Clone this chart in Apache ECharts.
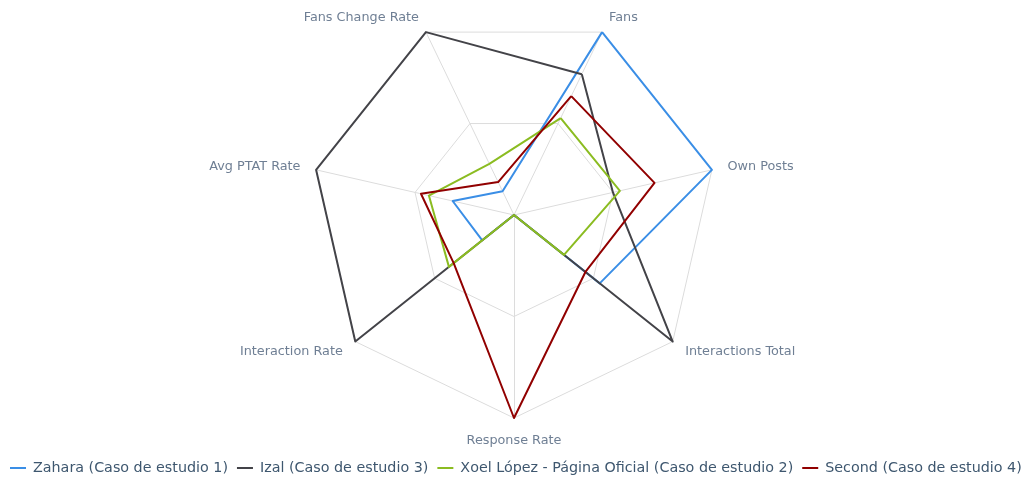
<!DOCTYPE html>
<html>
<head>
<meta charset="utf-8">
<script src="https://cdn.jsdelivr.net/npm/echarts@6/dist/echarts.min.js"></script>
<style>
  html, body { margin:0; padding:0; background:#fff; }
  #chart { width:1023px; height:481px; }
</style>
</head>
<body>
<div id="chart"></div>
<script>
(()=>{
  // indicators, counter-clockwise from "Fans"
  const indicators = ['Fans', 'Fans Change Rate', 'Avg PTAT Rate', 'Interaction Rate', 'Response Rate', 'Interactions Total', 'Own Posts'];

  const seriesNames = [
    'Zahara (Caso de estudio 1)',
    'Izal (Caso de estudio 3)',
    'Xoel López - Página Oficial (Caso de estudio 2)',
    'Second (Caso de estudio 4)'
  ];

  // normalised values (% of the axis max)
  const zahara = [100, 13, 31, 20, 0, 54, 100];
  const izal   = [77, 100, 100, 100, 0, 100, 50];
  const xoel   = [53, 28, 43, 41, 0, 31.5, 53.5];
  const second = [65, 18, 47, 38, 100, 45, 71];

  const colors = ['#3a8ee6', '#434348', '#8bbc21', '#910000'];
  const values = [zahara, izal, xoel, second];

  const FONT = '"DejaVu Sans", Verdana, sans-serif';

  const chart = echarts.init(document.getElementById('chart'));

  const option = {
    animation: false,
    color: colors,
    textStyle: { fontFamily: FONT },
    legend: {
      bottom: 1,
      left: 5,
      width: 1200,
      padding: [5, 0, 5, 5],
      icon: 'rect',
      itemWidth: 16,
      itemHeight: 2,
      itemGap: 9,
      textStyle: { color: '#3e576f', fontSize: 14.3, fontFamily: FONT, padding: [0, 0, 0, 2] },
      data: seriesNames
    },
    radar: {
      center: [514, 215],
      radius: 203,
      startAngle: 90 - 360 / 14,
      shape: 'polygon',
      splitNumber: 2,
      axisName: { color: '#6f7f94', fontSize: 12.8, fontFamily: FONT },
      nameGap: 16,
      splitLine: { lineStyle: { color: '#dcdcdc', width: 1 } },
      splitArea: { show: false },
      axisLine: { lineStyle: { color: '#dcdcdc', width: 1 } },
      indicator: indicators.map((name)=>({ name, min: 0, max: 100 }))
    },
    series: [{
      type: 'radar',
      symbol: 'none',
      lineStyle: { width: 2 },
      data: seriesNames.map((name, i)=>({
        name,
        value: values[i],
        lineStyle: { color: colors[i], width: 2 },
        itemStyle: { color: colors[i] }
      }))
    }]
  };

  chart.setOption(option);
})();
</script>
</body>
</html>
